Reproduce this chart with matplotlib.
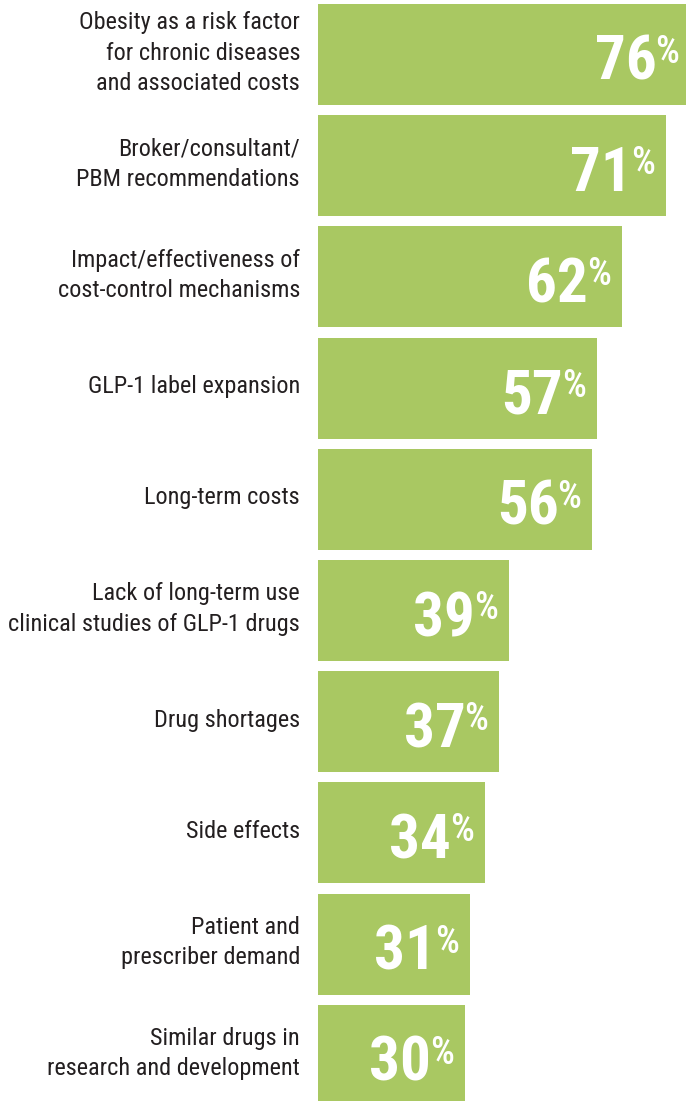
import matplotlib
matplotlib.use("Agg")
import matplotlib.pyplot as plt
from matplotlib.transforms import blended_transform_factory, offset_copy

categories = [
    "Obesity as a risk factor\nfor chronic diseases\nand associated costs",
    "Broker/consultant/\nPBM recommendations",
    "Impact/effectiveness of\ncost-control mechanisms",
    "GLP-1 label expansion",
    "Long-term costs",
    "Lack of long-term use\nclinical studies of GLP-1 drugs",
    "Drug shortages",
    "Side effects",
    "Patient and\nprescriber demand",
    "Similar drugs in\nresearch and development",
]
values = [76, 71, 62, 57, 56, 39, 37, 34, 31, 30]

BAR_COLOR = "#a9c862"
TEXT_COLOR = "#231f20"
LABEL_FONT = ["Roboto Condensed", "DejaVu Sans"]

W, H = 686, 1101
fig = plt.figure(figsize=(W / 100, H / 100), dpi=100)
fig.patch.set_facecolor("white")

ax_left = 318
ax = fig.add_axes([ax_left / W, 0, (W - ax_left) / W, 1])
px_per_unit = 4.9
pitch = 111.2
first_center = 54.5
ax.set_xlim(0, (W - ax_left) / px_per_unit)
ax.set_ylim((H - first_center) / pitch, -first_center / pitch)
ax.axis("off")

ypos = list(range(len(values)))
ax.barh(ypos, values, height=101 / pitch, color=BAR_COLOR, edgecolor="none")

lab_tr = offset_copy(blended_transform_factory(fig.transFigure, ax.transData), fig=fig, x=0, y=1.5, units="dots")
for y, lab in zip(ypos, categories):
    ax.text(300 / W, y, lab, transform=lab_tr, ha="right", va="center",
            fontsize=17.5, color=TEXT_COLOR, family=LABEL_FONT,
            linespacing=1.4, clip_on=False)

fig.canvas.draw()
renderer = fig.canvas.get_renderer()
for y, v in zip(ypos, values):
    pct = ax.text(v, y, "%", transform=offset_copy(ax.transData, fig=fig, x=-11, y=-8.5, units="dots"),
                  ha="right", va="baseline", fontsize=27, fontweight="medium",
                  color="white", family=LABEL_FONT, clip_on=False)
    pw = pct.get_window_extent(renderer).width
    ax.text(v, y, f"{v}", transform=offset_copy(ax.transData, fig=fig, x=-11 - pw + 1, y=-25.5, units="dots"),
            ha="right", va="baseline", fontsize=44, fontweight="bold",
            color="white", family=LABEL_FONT, clip_on=False)

fig.savefig("out.png", dpi=100, facecolor="white")
